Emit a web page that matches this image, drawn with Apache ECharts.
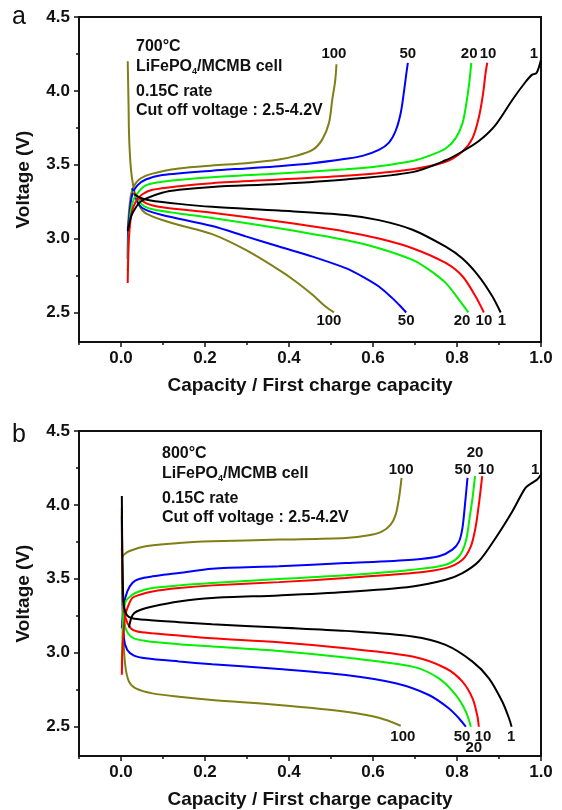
<!DOCTYPE html>
<html>
<head>
<meta charset="utf-8">
<script src="https://cdn.jsdelivr.net/npm/echarts@6/dist/echarts.min.js"></script>
<style>
  html, body { margin: 0; padding: 0; background: #fff; }
  #chart { width: 562px; height: 810px; }
</style>
</head>
<body>
<div id="chart"></div>
<script>
// Cycle numbers shown on the curves
const cycles = ['1', '10', '20', '50', '100'];

// ---- (a) 700 °C: charge curves [capacity ratio, voltage] ----
const a_charge_1 = [[0.016,3.05],[0.022,3.13],[0.027,3.17],[0.043,3.24],[0.059,3.27],[0.098,3.31],[0.138,3.33],[0.217,3.35],[0.376,3.37],[0.535,3.40],[0.694,3.45],[0.773,3.53],[0.813,3.59],[0.852,3.66],[0.892,3.77],[0.932,3.94],[0.963,4.06],[0.979,4.11],[0.989,4.12],[0.995,4.16],[1.0,4.21]];
const a_charge_10 = [[0.016,2.70],[0.017,2.85],[0.019,3.01],[0.025,3.17],[0.035,3.25],[0.051,3.30],[0.075,3.33],[0.138,3.355],[0.217,3.375],[0.376,3.40],[0.535,3.425],[0.694,3.47],[0.773,3.52],[0.813,3.59],[0.837,3.68],[0.852,3.82],[0.862,3.98],[0.868,4.12],[0.872,4.19]];
const a_charge_20 = [[0.016,2.78],[0.017,2.92],[0.019,3.06],[0.023,3.18],[0.031,3.27],[0.043,3.32],[0.059,3.36],[0.098,3.385],[0.217,3.415],[0.376,3.44],[0.535,3.47],[0.614,3.49],[0.694,3.525],[0.733,3.56],[0.773,3.61],[0.797,3.68],[0.813,3.78],[0.822,3.91],[0.829,4.05],[0.834,4.19]];
const a_charge_50 = [[0.016,2.86],[0.017,3.06],[0.021,3.19],[0.027,3.30],[0.039,3.36],[0.059,3.40],[0.098,3.43],[0.217,3.46],[0.297,3.475],[0.376,3.49],[0.456,3.51],[0.535,3.54],[0.575,3.56],[0.614,3.60],[0.638,3.65],[0.654,3.73],[0.666,3.85],[0.674,4.00],[0.680,4.13],[0.683,4.19]];
const a_charge_100 = [[0.016,3.06],[0.021,3.24],[0.027,3.33],[0.043,3.40],[0.075,3.44],[0.138,3.475],[0.217,3.495],[0.297,3.51],[0.376,3.535],[0.416,3.56],[0.456,3.60],[0.479,3.67],[0.495,3.78],[0.503,3.94],[0.510,4.07],[0.513,4.18]];

// ---- (a) 700 °C: discharge curves ----
const a_discharge_1 = [[0.032,3.30],[0.047,3.275],[0.067,3.26],[0.138,3.235],[0.217,3.215],[0.376,3.19],[0.535,3.16],[0.614,3.125],[0.694,3.06],[0.773,2.945],[0.813,2.865],[0.852,2.745],[0.884,2.61],[0.904,2.50]];
const a_discharge_10 = [[0.030,3.31],[0.039,3.285],[0.059,3.24],[0.098,3.212],[0.217,3.175],[0.376,3.115],[0.535,3.047],[0.614,3.00],[0.694,2.935],[0.773,2.835],[0.813,2.745],[0.844,2.61],[0.864,2.50]];
const a_discharge_20 = [[0.028,3.32],[0.035,3.295],[0.051,3.227],[0.075,3.198],[0.138,3.17],[0.217,3.14],[0.376,3.07],[0.535,2.99],[0.614,2.935],[0.694,2.856],[0.733,2.79],[0.773,2.70],[0.805,2.585],[0.827,2.50]];
const a_discharge_50 = [[0.026,3.34],[0.031,3.31],[0.043,3.227],[0.059,3.194],[0.098,3.16],[0.217,3.085],[0.297,3.015],[0.376,2.946],[0.456,2.878],[0.535,2.80],[0.575,2.743],[0.614,2.676],[0.646,2.597],[0.666,2.54],[0.679,2.50]];
const a_discharge_100 = [[0.016,4.20],[0.018,3.90],[0.019,3.72],[0.021,3.58],[0.024,3.46],[0.029,3.36],[0.035,3.284],[0.047,3.205],[0.059,3.171],[0.098,3.126],[0.138,3.092],[0.217,3.03],[0.297,2.923],[0.376,2.788],[0.416,2.71],[0.456,2.62],[0.487,2.54],[0.507,2.50]];

// ---- (b) 800 °C: charge curves ----
const b_charge_1 = [[0.019,3.17],[0.024,3.23],[0.031,3.267],[0.047,3.29],[0.075,3.312],[0.138,3.346],[0.217,3.37],[0.376,3.387],[0.535,3.41],[0.694,3.448],[0.773,3.493],[0.813,3.538],[0.852,3.618],[0.892,3.776],[0.932,3.957],[0.963,4.115],[0.979,4.149],[0.991,4.172],[1.0,4.206]];
const b_charge_10 = [[0.002,2.85],[0.003,2.98],[0.005,3.10],[0.010,3.25],[0.015,3.30],[0.027,3.37],[0.043,3.39],[0.075,3.414],[0.138,3.437],[0.217,3.455],[0.376,3.477],[0.535,3.505],[0.694,3.538],[0.773,3.572],[0.813,3.629],[0.833,3.719],[0.844,3.844],[0.852,4.002],[0.860,4.195]];
const b_charge_20 = [[0.002,2.92],[0.003,3.03],[0.005,3.233],[0.011,3.346],[0.027,3.391],[0.043,3.414],[0.075,3.437],[0.138,3.455],[0.217,3.471],[0.376,3.498],[0.535,3.523],[0.694,3.561],[0.773,3.595],[0.805,3.652],[0.821,3.753],[0.830,3.912],[0.837,4.048],[0.843,4.195]];
const b_charge_50 = [[0.002,3.165],[0.007,3.324],[0.015,3.414],[0.027,3.471],[0.043,3.498],[0.075,3.516],[0.138,3.538],[0.217,3.568],[0.376,3.584],[0.535,3.606],[0.694,3.629],[0.757,3.652],[0.789,3.697],[0.805,3.753],[0.813,3.844],[0.819,4.002],[0.825,4.183]];
const b_charge_100 = [[0.002,3.64],[0.007,3.663],[0.019,3.686],[0.059,3.72],[0.138,3.742],[0.217,3.753],[0.376,3.765],[0.535,3.776],[0.590,3.794],[0.622,3.821],[0.642,3.867],[0.654,3.934],[0.662,4.048],[0.668,4.183]];

// ---- (b) 800 °C: discharge curves ----
const b_discharge_1 = [[0.002,4.06],[0.003,3.70],[0.005,3.40],[0.008,3.30],[0.015,3.25],[0.027,3.233],[0.059,3.222],[0.138,3.206],[0.217,3.192],[0.376,3.17],[0.535,3.147],[0.694,3.109],[0.773,3.052],[0.837,2.939],[0.876,2.826],[0.908,2.667],[0.924,2.554],[0.930,2.498]];
const b_discharge_10 = [[0.002,3.98],[0.003,3.60],[0.005,3.35],[0.011,3.233],[0.023,3.165],[0.039,3.143],[0.075,3.131],[0.138,3.115],[0.217,3.097],[0.376,3.07],[0.535,3.029],[0.694,2.973],[0.773,2.894],[0.813,2.803],[0.837,2.69],[0.848,2.577],[0.852,2.498]];
const b_discharge_20 = [[0.002,3.946],[0.003,3.55],[0.005,3.30],[0.011,3.165],[0.027,3.102],[0.059,3.079],[0.138,3.057],[0.217,3.041],[0.376,3.011],[0.535,2.966],[0.694,2.905],[0.757,2.826],[0.797,2.713],[0.821,2.60],[0.833,2.498]];
const b_discharge_50 = [[0.002,3.923],[0.003,3.50],[0.007,3.097],[0.015,3.018],[0.031,2.98],[0.059,2.962],[0.138,2.94],[0.217,2.921],[0.376,2.889],[0.535,2.848],[0.654,2.792],[0.733,2.713],[0.781,2.622],[0.805,2.554],[0.821,2.498]];
const b_discharge_100 = [[0.002,3.708],[0.004,3.30],[0.005,3.143],[0.010,2.916],[0.019,2.803],[0.035,2.758],[0.075,2.724],[0.138,2.701],[0.217,2.679],[0.376,2.645],[0.535,2.60],[0.614,2.559],[0.666,2.505]];

// Axis ranges and tick positions
const xRange = [-0.1, 1.0];
const yRange = [2.3, 4.5];
const xMajorTicks = [0.0, 0.2, 0.4, 0.6, 0.8, 1.0];
const xMinorTicks = [-0.1, 0.1, 0.3, 0.5, 0.7, 0.9];
const yMajorTicks = [2.5, 3.0, 3.5, 4.0, 4.5];
const yMinorTicks = [2.75, 3.25, 3.75, 4.25];

const palette = { '1': '#000000', '10': '#ff0000', '20': '#00f000', '50': '#0000ff', '100': '#7f7f15' };

// Where the cycle-number tags sit, in data units
const tagPos = {
  a: {
    top: { '1': [0.983, 4.25], '10': [0.874, 4.25], '20': [0.829, 4.25], '50': [0.683, 4.25], '100': [0.507, 4.25] },
    bottom: { '1': [0.907, 2.44], '10': [0.864, 2.44], '20': [0.812, 2.44], '50': [0.679, 2.44], '100': [0.495, 2.44] }
  },
  b: {
    top: { '1': [0.986, 4.24], '10': [0.869, 4.24], '20': [0.843, 4.355], '50': [0.814, 4.24], '100': [0.667, 4.24] },
    bottom: { '1': [0.929, 2.43], '10': [0.862, 2.43], '20': [0.840, 2.355], '50': [0.812, 2.43], '100': [0.671, 2.43] }
  }
};

const panels = {
  a: { charge: [a_charge_1, a_charge_10, a_charge_20, a_charge_50, a_charge_100],
       discharge: [a_discharge_1, a_discharge_10, a_discharge_20, a_discharge_50, a_discharge_100] },
  b: { charge: [b_charge_1, b_charge_10, b_charge_20, b_charge_50, b_charge_100],
       discharge: [b_discharge_1, b_discharge_10, b_discharge_20, b_discharge_50, b_discharge_100] }
};

const FONT = '"Liberation Sans", Arial, sans-serif';
const INK = '#111';

function tagPoint(pos, text) {
  return {
    symbol: 'circle',
    symbolSize: 0,
    silent: true,
    label: { show: true, position: 'inside', formatter: text, color: INK, fontFamily: FONT, fontWeight: 'bold', fontSize: 15 },
    data: [{ coord: pos, value: text }]
  };
}

const series = [];
['a', 'b'].forEach((key, idx) => {
  cycles.forEach((c, i) => {
    ['charge', 'discharge'].forEach(kind => {
      const where = kind === 'charge' ? 'top' : 'bottom';
      series.push({
        name: key + '-' + kind + '-' + c,
        type: 'line',
        xAxisIndex: idx,
        yAxisIndex: idx,
        data: panels[key][kind][i],
        showSymbol: false,
        smooth: 0.3,
        lineStyle: { color: palette[c], width: 2 },
        itemStyle: { color: palette[c] },
        z: 10 - i,
        markPoint: tagPoint(tagPos[key][where][c], c),
        animation: false
      });
    });
  });
});

const labelStyle = { fontFamily: FONT, fontWeight: 'bold', fontSize: 17, color: INK };
const nameStyle = { fontFamily: FONT, fontWeight: 'bold', fontSize: 19, color: INK };

// Main axes: line, long ticks, labels and title
function xAxisMain(i) {
  return {
    type: 'value', gridIndex: i, min: xRange[0], max: xRange[1], position: 'bottom',
    name: 'Capacity / First charge capacity', nameLocation: 'middle', nameGap: 34,
    nameTextStyle: nameStyle,
    axisLine: { show: true, onZero: false, lineStyle: { color: INK, width: 2 } },
    axisTick: { show: true, inside: false, length: 5, customValues: xMajorTicks, lineStyle: { color: INK, width: 1.5 } },
    splitLine: { show: false },
    axisLabel: Object.assign({ margin: 8, customValues: xMajorTicks, formatter: v => v.toFixed(1) }, labelStyle)
  };
}
function yAxisMain(i) {
  return {
    type: 'value', gridIndex: i, min: yRange[0], max: yRange[1], position: 'left',
    name: 'Voltage (V)', nameLocation: 'middle', nameGap: 46, nameRotate: 90,
    nameTextStyle: nameStyle,
    axisLine: { show: true, onZero: false, lineStyle: { color: INK, width: 2 } },
    axisTick: { show: true, inside: false, length: 5, customValues: yMajorTicks, lineStyle: { color: INK, width: 1.5 } },
    splitLine: { show: false },
    axisLabel: Object.assign({ margin: 9, customValues: yMajorTicks, formatter: v => v.toFixed(1) }, labelStyle)
  };
}
// Companion axes carrying only the short minor ticks
function xAxisMinor(i) {
  return {
    type: 'value', gridIndex: i, min: xRange[0], max: xRange[1], position: 'bottom', offset: 0,
    axisLine: { show: false, onZero: false },
    axisTick: { show: true, inside: false, length: 3, customValues: xMinorTicks, lineStyle: { color: INK, width: 1.5 } },
    axisLabel: { show: false }, splitLine: { show: false }
  };
}
function yAxisMinor(i) {
  return {
    type: 'value', gridIndex: i, min: yRange[0], max: yRange[1], position: 'left', offset: 0,
    axisLine: { show: false, onZero: false },
    axisTick: { show: true, inside: false, length: 3, customValues: yMinorTicks, lineStyle: { color: INK, width: 1.5 } },
    axisLabel: { show: false }, splitLine: { show: false }
  };
}

function noteBlock(left, top, temp) {
  const base = { fontFamily: FONT, fontWeight: 'bold', fontSize: 16, fill: INK };
  return [
    { type: 'text', left: left, top: top, style: Object.assign({ text: temp + '\u00B0C' }, base) },
    { type: 'text', left: left, top: top + 20, style: Object.assign({
        text: 'LiFePO{sub|4}/MCMB cell',
        rich: { sub: { fontFamily: FONT, fontWeight: 'bold', fontSize: 9, padding: [10, 0, 0, 0] } }
      }, base) },
    { type: 'text', left: left, top: top + 45, style: Object.assign({ text: '0.15C rate' }, base) },
    { type: 'text', left: left, top: top + 64, style: Object.assign({ text: 'Cut off voltage : 2.5-4.2V' }, base) }
  ];
}

const option = {
  backgroundColor: '#ffffff',
  animation: false,
  grid: [
    { left: 79, top: 17, width: 462, height: 325, show: true, borderColor: INK, borderWidth: 2, backgroundColor: 'transparent' },
    { left: 79, top: 431, width: 462, height: 325, show: true, borderColor: INK, borderWidth: 2, backgroundColor: 'transparent' }
  ],
  xAxis: [xAxisMain(0), xAxisMain(1), xAxisMinor(0), xAxisMinor(1)],
  yAxis: [yAxisMain(0), yAxisMain(1), yAxisMinor(0), yAxisMinor(1)],
  series: series,
  graphic: [
    { type: 'text', left: 12, top: 5, style: { text: 'a', fontFamily: FONT, fontSize: 25, fill: INK } },
    { type: 'text', left: 12, top: 423, style: { text: 'b', fontFamily: FONT, fontSize: 25, fill: INK } }
  ].concat(noteBlock(136, 39, '700')).concat(noteBlock(162, 446, '800'))
};

const chart = echarts.init(document.getElementById('chart'), null, { renderer: 'canvas' });
chart.setOption(option);
</script>
</body>
</html>
